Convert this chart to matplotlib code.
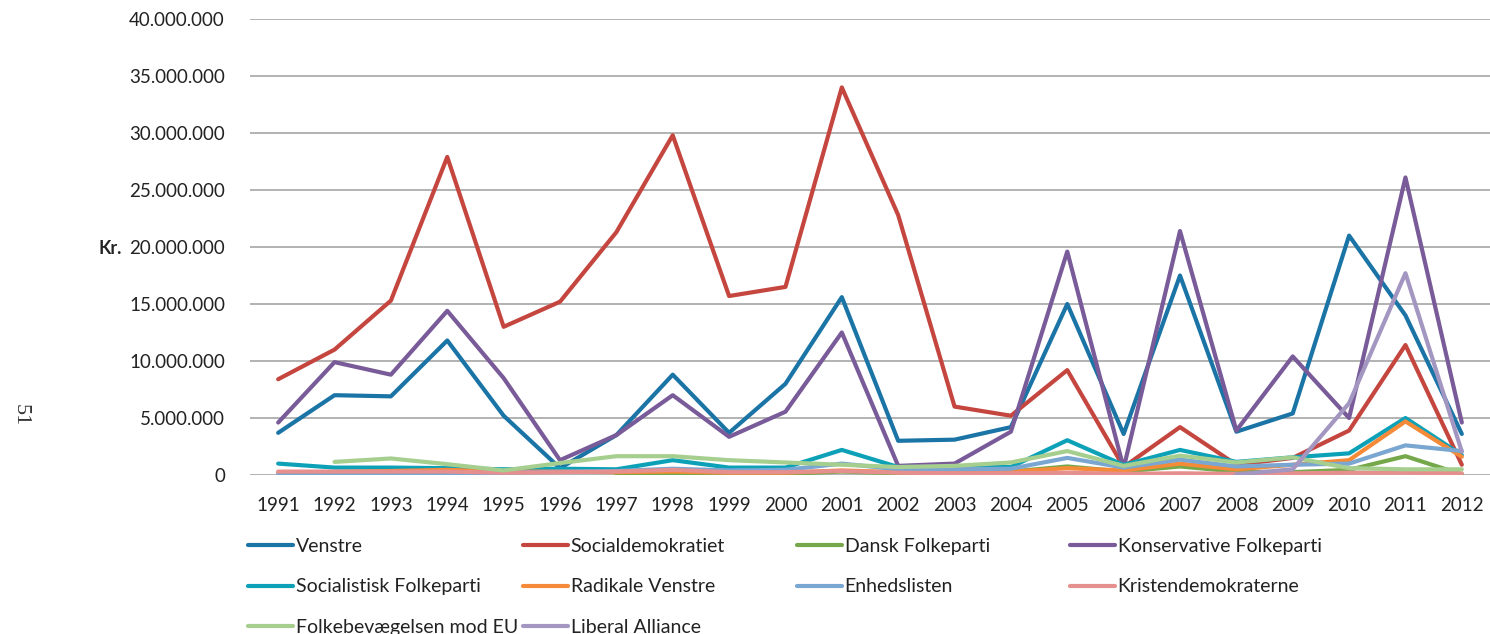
import numpy as np
import matplotlib
matplotlib.use('Agg')
import matplotlib.pyplot as plt
from matplotlib.ticker import FuncFormatter

plt.rcParams['font.family'] = ['Lato', 'DejaVu Sans']

nan = np.nan
years = [str(y) for y in range(1991, 2013)]

# values in million kr.
venstre = [3.7, 7.0, 6.9, 11.8, 5.2, 0.6, 3.5, 8.8, 3.7, 8.0, 15.6, 3.0,
           3.1, 4.2, 15.0, 3.6, 17.5, 3.8, 5.4, 21.0, 14.0, 3.6]
socialdem = [8.4, 11.0, 15.3, 27.9, 13.0, 15.2, 21.3, 29.8, 15.7, 16.5, 34.0, 22.8,
             6.0, 5.2, 9.2, 0.7, 4.2, 0.9, 1.5, 3.9, 11.4, 0.9]
dansk_fp = [nan, nan, nan, nan, nan, nan, 0.0, 0.1, 0.1, 0.1, 0.3, 0.15,
            0.2, 0.3, 0.75, 0.3, 0.75, 0.3, 0.25, 0.45, 1.65, 0.05]
konservative = [4.6, 9.9, 8.8, 14.4, 8.5, 1.3, 3.5, 7.0, 3.35, 5.55, 12.5, 0.8,
                1.0, 3.8, 19.6, 0.6, 21.4, 3.9, 10.4, 5.0, 26.1, 4.6]
sf = [1.0, 0.65, 0.65, 0.6, 0.5, 0.55, 0.5, 1.3, 0.65, 0.65, 2.2, 0.7,
      0.7, 0.7, 3.05, 0.88, 2.2, 1.15, 1.55, 1.9, 5.0, 1.75]
radikale = [0.2, 0.25, 0.35, 0.45, 0.3, 0.3, 0.25, 0.3, 0.2, 0.2, 0.4, 0.25,
            0.2, 0.3, 0.6, 0.4, 1.0, 0.5, 0.9, 1.3, 4.7, 1.6]
enhedslisten = [0.05, 0.05, 0.05, 0.15, 0.2, 0.3, 0.35, 0.55, 0.4, 0.45, 1.0, 0.5,
                0.5, 0.55, 1.5, 0.65, 1.35, 0.75, 0.9, 1.0, 2.6, 2.1]
kristendem = [0.3, 0.3, 0.3, 0.3, 0.2, 0.25, 0.3, 0.45, 0.25, 0.25, 0.35, 0.2,
              0.15, 0.15, 0.2, 0.1, 0.15, 0.1, 0.15, 0.2, 0.2, 0.15]
folkebev = [nan, 1.15, 1.45, 0.95, 0.4, 1.05, 1.65, 1.65, 1.3, 1.1, 0.9, 0.7,
            0.8, 1.1, 2.1, 0.8, 1.7, 1.1, 1.55, 0.6, 0.5, 0.5]
liberal = [nan, nan, nan, nan, nan, nan, nan, nan, nan, nan, nan, nan,
           nan, nan, nan, nan, nan, 0.05, 0.5, 6.3, 17.7, 2.05]

series = [
    ('Venstre', venstre, '#1b74a6'),
    ('Socialdemokratiet', socialdem, '#c4463f'),
    ('Dansk Folkeparti', dansk_fp, '#75a84a'),
    ('Konservative Folkeparti', konservative, '#785b98'),
    ('Socialistisk Folkeparti', sf, '#0da1b8'),
    ('Radikale Venstre', radikale, '#f58a38'),
    ('Enhedslisten', enhedslisten, '#7aa6d2'),
    ('Kristendemokraterne', kristendem, '#e58f8e'),
    ('Folkebevægelsen mod EU', folkebev, '#a6cf8f'),
    ('Liberal Alliance', liberal, '#a396c1'),
]

W, H = 1490, 634
fig = plt.figure(figsize=(W / 100, H / 100), dpi=100)
ax = fig.add_axes([250 / W, 1 - 475 / H, 1240 / W, 456 / H])

x = np.arange(len(years))
handles = {}
for name, vals, col in series:
    ln, = ax.plot(x, np.array(vals) * 1e6, color=col, lw=3.0,
                  solid_joinstyle='round', solid_capstyle='round', label=name)
    handles[name] = ln

ax.set_xlim(-0.5, len(years) - 0.5)
ax.set_ylim(0, 40e6)
ax.set_yticks(np.arange(0, 40e6 + 1, 5e6))
ax.yaxis.set_major_formatter(FuncFormatter(lambda v, p: f'{int(v):,}'.replace(',', '.')))
ax.set_xticks(x)
ax.set_xticklabels(years)
ax.grid(axis='y', color='#a5a5a5', lw=1.2)
ax.set_axisbelow(True)
for s in ax.spines.values():
    s.set_visible(False)
ax.tick_params(axis='both', length=0, labelsize=13.5, colors='#222222')
ax.tick_params(axis='y', pad=18)
ax.tick_params(axis='x', pad=16)

fig.text(99 / W, 1 - 248 / H, 'Kr.', fontsize=13, fontweight='bold',
         color='#222222', ha='left', va='center')
fig.text(20 / W, 1 - 415 / H, '51', fontsize=16, rotation=-90,
         family='Liberation Serif', color='#333333', ha='center', va='center')

columns = [
    (248, ['Venstre', 'Socialistisk Folkeparti', 'Folkebevægelsen mod EU']),
    (523, ['Socialdemokratiet', 'Radikale Venstre', 'Liberal Alliance']),
    (797, ['Dansk Folkeparti', 'Enhedslisten']),
    (1070, ['Konservative Folkeparti', 'Kristendemokraterne']),
]
for cx, names in columns:
    fig.legend([handles[n] for n in names], names, loc='upper left',
               bbox_to_anchor=(cx / W, 1 - 538 / H), frameon=False,
               borderpad=0, borderaxespad=0, handlelength=2.3,
               handletextpad=0.15, labelspacing=1.2, fontsize=14,
               labelcolor='#222222')

fig.savefig('out.png', dpi=100)
